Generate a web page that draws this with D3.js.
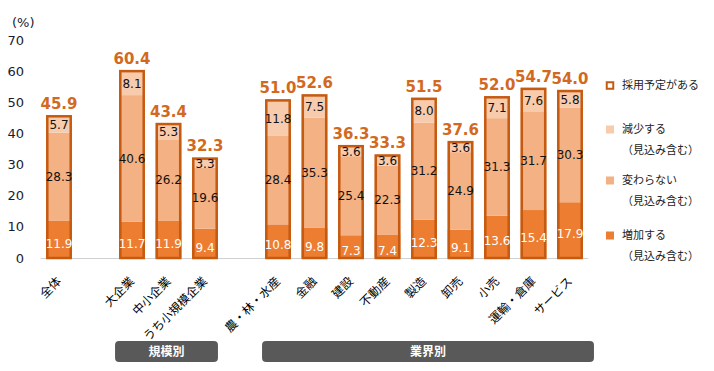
<!DOCTYPE html>
<meta charset="utf-8">
<style>
body { margin: 0; background: #fff; }
svg text { font-family: "DejaVu Sans", "Noto Sans CJK JP", sans-serif; }
.jp { font-family: "Noto Sans CJK JP", sans-serif; }
</style>
<body>
<svg width="714" height="371"></svg>
<script src="https://d3js.org/d3.v7.min.js"></script>
<script>

// categories (with blank slots between groups)
var categories = ["全体", "大企業", "中小企業", "うち小規模企業", "農・林・水産", "金融", "建設", "不動産", "製造", "卸売", "小売", "運輸・倉庫", "サービス"];
var slots = ["全体", "_gap1", "大企業", "中小企業", "うち小規模企業", "_gap2", "農・林・水産", "金融", "建設", "不動産", "製造", "卸売", "小売", "運輸・倉庫", "サービス"];

var increase  = [11.9, 11.7, 11.9, 9.4, 10.8, 9.8, 7.3, 7.4, 12.3, 9.1, 13.6, 15.4, 17.9];
var unchanged = [28.3, 40.6, 26.2, 19.6, 28.4, 35.3, 25.4, 22.3, 31.2, 24.9, 31.3, 31.7, 30.3];
var decrease  = [5.7, 8.1, 5.3, 3.3, 11.8, 7.5, 3.6, 3.6, 8.0, 3.6, 7.1, 7.6, 5.8];
var totals    = [45.9, 60.4, 43.4, 32.3, 51.0, 52.6, 36.3, 33.3, 51.5, 37.6, 52.0, 54.7, 54.0];

var yTicks = [0, 10, 20, 30, 40, 50, 60, 70];

var groups = [
    {name: "規模別", first: "大企業", last: "うち小規模企業"},
    {name: "業界別", first: "農・林・水産", last: "サービス"}
];

var legendItems = ["採用予定がある", "減少する", "変わらない", "増加する"];
var legendSub = "（見込み含む）";

var colIncrease = "#ED7D31",
    colUnchanged = "#F4B183",
    colDecrease = "#F8CBAD",
    colOutline = "#C55A11",
    colTotal = "#D2691E";

var svg = d3.select("svg");

var x = d3.scaleBand().domain(slots).range([40.75, 588.25]).paddingInner(0.29).paddingOuter(0.145);
var y = d3.scaleLinear().domain([0, 70]).range([258, 40]);

// y axis labels
svg.append("g").selectAll("text")
    .data(yTicks)
    .enter().append("text")
    .attr("x", 24)
    .attr("y", function(d) { return y(d); })
    .attr("dy", "0.35em")
    .attr("text-anchor", "end")
    .attr("font-size", 13)
    .attr("fill", "#1a1a2e")
    .text(function(d) { return d; });

svg.append("text")
    .attr("x", 12).attr("y", 27)
    .attr("font-size", 13).attr("fill", "#1a1a2e")
    .text("(%)");

// baseline
svg.append("line")
    .attr("x1", 40.75).attr("x2", 588.25)
    .attr("y1", y(0) + 0.5).attr("y2", y(0) + 0.5)
    .attr("stroke", "#d0d0d0").attr("stroke-width", 1);

var rows = categories.map(function(c, i) {
    return {cat: c, inc: increase[i], unc: unchanged[i], dec: decrease[i], tot: totals[i]};
});

var bw = x.bandwidth();
var bar = svg.append("g").selectAll("g")
    .data(rows)
    .enter().append("g")
    .attr("transform", function(d) { return "translate(" + x(d.cat) + ",0)"; });

// stacked segments
bar.append("rect")
    .attr("width", bw)
    .attr("y", function(d) { return y(d.inc); })
    .attr("height", function(d) { return y(0) - y(d.inc); })
    .attr("fill", colIncrease);
bar.append("rect")
    .attr("width", bw)
    .attr("y", function(d) { return y(d.inc + d.unc); })
    .attr("height", function(d) { return y(d.inc) - y(d.inc + d.unc); })
    .attr("fill", colUnchanged);
bar.append("rect")
    .attr("width", bw)
    .attr("y", function(d) { return y(d.tot); })
    .attr("height", function(d) { return y(d.inc + d.unc) - y(d.tot); })
    .attr("fill", colDecrease);

// total outline
bar.append("rect")
    .attr("x", 1.25)
    .attr("width", bw - 2.5)
    .attr("y", function(d) { return y(d.tot) + 1.25; })
    .attr("height", function(d) { return y(0) - y(d.tot) - 1.25; })
    .attr("fill", "none")
    .attr("stroke", colOutline)
    .attr("stroke-width", 2.5);

// segment labels
bar.append("text")
    .attr("x", bw / 2)
    .attr("y", function(d) { return (y(0) + y(d.inc)) / 2 + 4; })
    .attr("dy", "0.35em")
    .attr("text-anchor", "middle")
    .attr("font-size", 12)
    .attr("fill", "#fff")
    .text(function(d) { return d.inc.toFixed(1); });
bar.append("text")
    .attr("x", bw / 2)
    .attr("y", function(d) { return (y(d.inc) + y(d.inc + d.unc)) / 2; })
    .attr("dy", "0.35em")
    .attr("text-anchor", "middle")
    .attr("font-size", 12)
    .attr("fill", "#111")
    .text(function(d) { return d.unc.toFixed(1); });
bar.append("text")
    .attr("x", bw / 2)
    .attr("y", function(d) { return (y(d.inc + d.unc) + y(d.tot)) / 2 + 1; })
    .attr("dy", "0.35em")
    .attr("text-anchor", "middle")
    .attr("font-size", 12)
    .attr("fill", "#111")
    .text(function(d) { return d.dec.toFixed(1); });

// total labels
bar.append("text")
    .attr("x", bw / 2)
    .attr("y", function(d) { return y(d.tot) - 6; })
    .attr("text-anchor", "middle")
    .attr("font-size", 15)
    .attr("font-weight", "bold")
    .attr("fill", colTotal)
    .text(function(d) { return d.tot.toFixed(1); });

// category labels
svg.append("g").selectAll("text")
    .data(categories)
    .enter().append("text")
    .attr("class", "jp")
    .attr("transform", function(d) { return "translate(" + (x(d) + bw / 2) + ",279) rotate(-45)"; })
    .attr("text-anchor", "end")
    .attr("dy", "0.35em")
    .attr("font-size", 12)
    .attr("fill", "#000")
    .text(function(d) { return d; });

// group boxes
var groupPad = {"規模別": [4, 0], "業界別": [3, 11]};
var gb = svg.append("g").selectAll("g")
    .data(groups)
    .enter().append("g");
gb.append("rect")
    .attr("x", function(d) { return x(d.first) - groupPad[d.name][0]; })
    .attr("width", function(d) { return x(d.last) + bw + groupPad[d.name][1] - x(d.first) + groupPad[d.name][0]; })
    .attr("y", 341).attr("height", 21)
    .attr("rx", 4)
    .attr("fill", "#595959");
gb.append("text")
    .attr("class", "jp")
    .attr("x", function(d) { return (x(d.first) - groupPad[d.name][0] + x(d.last) + bw + groupPad[d.name][1]) / 2; })
    .attr("y", 352)
    .attr("dy", "0.35em")
    .attr("text-anchor", "middle")
    .attr("font-size", 12)
    .attr("font-weight", "bold")
    .attr("fill", "#fff")
    .text(function(d) { return d.name; });

// legend
var legendY = [85.5, 129.5, 180.5, 235.5];
var legendFill = ["#fff", colDecrease, colUnchanged, colIncrease];
var lg = svg.append("g").selectAll("g")
    .data(legendItems)
    .enter().append("g")
    .attr("transform", function(d, i) { return "translate(606," + legendY[i] + ")"; });
lg.append("rect")
    .attr("x", function(d, i) { return i === 0 ? 0.75 : 0; })
    .attr("y", function(d, i) { return i === 0 ? -3.25 : -4; })
    .attr("width", function(d, i) { return i === 0 ? 6.5 : 8; })
    .attr("height", function(d, i) { return i === 0 ? 6.5 : 8; })
    .attr("fill", function(d, i) { return legendFill[i]; })
    .attr("stroke", function(d, i) { return i === 0 ? colOutline : "none"; })
    .attr("stroke-width", 2);
lg.append("text")
    .attr("class", "jp")
    .attr("x", 16)
    .attr("dy", "0.35em")
    .attr("font-size", 11)
    .attr("fill", "#222")
    .text(function(d) { return d; });
lg.filter(function(d, i) { return i > 0; })
    .append("text")
    .attr("class", "jp")
    .attr("x", 16)
    .attr("y", 21)
    .attr("dy", "0.35em")
    .attr("font-size", 11)
    .attr("fill", "#222")
    .text(legendSub);

</script>
</body>
